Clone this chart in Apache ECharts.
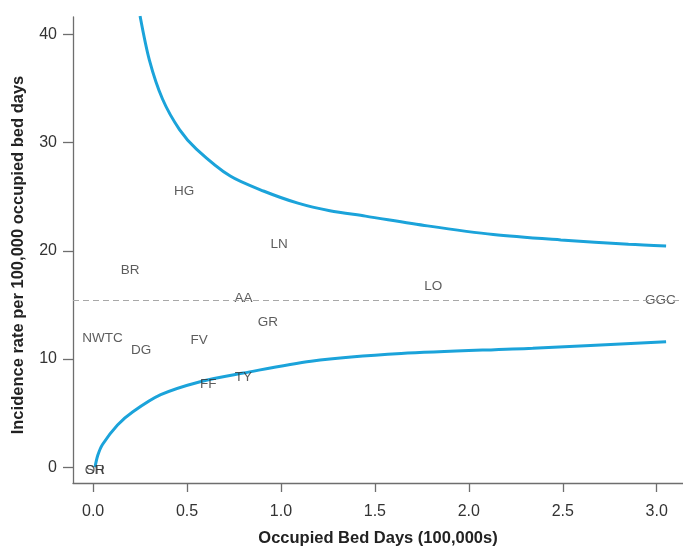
<!DOCTYPE html>
<html>
<head>
<meta charset="utf-8">
<script src="https://cdn.jsdelivr.net/npm/echarts@6/dist/echarts.min.js"></script>
<style>
html,body{margin:0;padding:0;background:#fff;}
#c{width:683px;height:552px;}
</style>
</head>
<body>
<div id="c"></div>
<script>
// Board labels and their positions (occupied bed days in 100,000s, incidence rate)
var boardNames = ['HG','LN','BR','AA','GR','LO','GGC','NWTC','DG','FV','FF','TY','SH','OR'];
var boardBedDays = [0.485, 0.99, 0.197, 0.80, 0.93, 1.81, 3.02, 0.05, 0.256, 0.565, 0.613, 0.80, 0.01, 0.01];
var boardRates   = [25.75, 20.9, 18.45, 15.9, 13.7, 17.0, 15.7, 12.2, 11.05, 11.96, 7.95, 8.6, 0.0, 0.0];

// Upper control limit
var upperX = [0.25, 0.30, 0.37, 0.46, 0.55, 0.73, 0.91, 1.09, 1.26, 1.45, 1.78, 2.13, 2.49, 2.85, 3.05];
var upperY = [41.7, 37.6, 34.0, 31.2, 29.4, 26.9, 25.5, 24.4, 23.7, 23.2, 22.3, 21.5, 21.0, 20.6, 20.45];

// Lower control limit
var lowerX = [0.01, 0.025, 0.05, 0.13, 0.21, 0.36, 0.57, 0.80, 1.16, 1.64, 2.34, 3.05];
var lowerY = [0.0, 1.1, 2.1, 3.9, 5.1, 6.7, 7.9, 8.7, 9.8, 10.5, 11.0, 11.6];

// Overall mean rate
var meanRate = 15.4;

// Tick labels
var xTicks = [0, 0.5, 1.0, 1.5, 2.0, 2.5, 3.0];
var yTicks = [0, 10, 20, 30, 40];

function zip(a, b) { return a.map(function (v, i) { return [v, b[i]]; }); }

var chart = echarts.init(document.getElementById('c'));
var axisColor = '#6e6e6e';
var font = 'Liberation Sans, Arial, Helvetica, sans-serif';

chart.setOption({
  animation: false,
  backgroundColor: '#ffffff',
  grid: { left: 73, right: 0, top: 17, bottom: 64, containLabel: false },
  xAxis: {
    type: 'value',
    min: -0.107,
    max: 3.14,
    name: 'Occupied Bed Days (100,000s)',
    nameLocation: 'middle',
    nameGap: 47,
    nameTextStyle: { fontFamily: font, fontWeight: 'bold', fontSize: 16.5, color: '#222' },
    axisLine: { show: true, onZero: false, lineStyle: { color: axisColor, width: 1.3 } },
    axisTick: { show: true, length: 9, lineStyle: { color: axisColor, width: 1.3 }, customValues: xTicks },
    axisLabel: {
      customValues: xTicks,
      margin: 21,
      fontFamily: font, fontSize: 16, color: '#333',
      formatter: function (v) { return v.toFixed(1); }
    },
    splitLine: { show: false }
  },
  yAxis: {
    type: 'value',
    min: -1.46,
    max: 41.6,
    axisLine: { show: true, onZero: false, lineStyle: { color: axisColor, width: 1.3 } },
    axisTick: { show: true, length: 10, lineStyle: { color: axisColor, width: 1.3 }, customValues: yTicks },
    axisLabel: {
      customValues: yTicks,
      margin: 16,
      fontFamily: font, fontSize: 16, color: '#333',
      formatter: function (v) { return String(v); }
    },
    splitLine: { show: false }
  },
  graphic: [{
    type: 'text',
    x: 18,
    y: 255,
    rotation: Math.PI / 2,
    style: {
      text: 'Incidence rate per 100,000 occupied bed days',
      fontFamily: font,
      fontWeight: 'bold',
      fontSize: 16.5,
      fill: '#222',
      align: 'center',
      verticalAlign: 'middle'
    }
  }],
  series: [
    {
      type: 'line',
      data: zip(upperX, upperY),
      smooth: 0.3,
      showSymbol: false,
      symbol: 'none',
      clip: true,
      lineStyle: { color: '#1ba3da', width: 3 },
      markLine: {
        silent: true,
        symbol: 'none',
        label: { show: false },
        lineStyle: { color: '#a8a8a8', type: [6, 4], width: 1.2 },
        data: [{ yAxis: meanRate }]
      },
      z: 2
    },
    {
      type: 'line',
      data: zip(lowerX, lowerY),
      smooth: 0.3,
      showSymbol: false,
      symbol: 'none',
      clip: true,
      lineStyle: { color: '#1ba3da', width: 3 },
      z: 2
    },
    {
      type: 'scatter',
      data: boardNames.map(function (n, i) { return { name: n, value: [boardBedDays[i], boardRates[i]] }; }),
      symbolSize: 1,
      itemStyle: { color: 'rgba(0,0,0,0)' },
      label: {
        show: true,
        position: [0.5, 3.5],
        align: 'center',
        verticalAlign: 'middle',
        formatter: function (p) { return p.name; },
        fontFamily: font,
        fontSize: 13.5,
        color: '#333'
      },
      labelLayout: { hideOverlap: false },
      z: 3
    }
  ]
});
</script>
</body>
</html>
